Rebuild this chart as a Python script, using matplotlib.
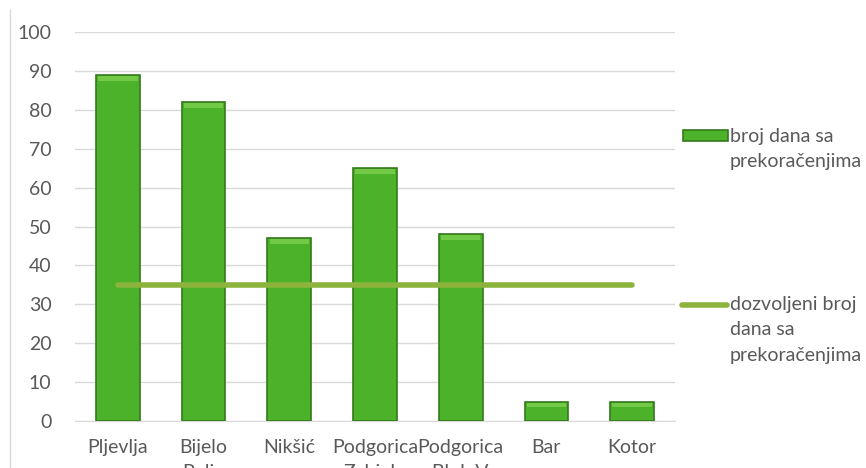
import matplotlib

matplotlib.use("Agg")
import matplotlib.pyplot as plt
from matplotlib.lines import Line2D
from matplotlib.patches import Rectangle

plt.rcParams["font.family"] = ["Lato", "DejaVu Sans"]

stations = ["Pljevlja", "Bijelo\nPolje", "Nikšić", "Podgorica\nZabjelo",
            "Podgorica\nBlok V", "Bar", "Kotor"]
days_over = [89, 82, 47, 65, 48, 5, 5]
allowed_days = 35
yticks = [0, 10, 20, 30, 40, 50, 60, 70, 80, 90, 100]

bar_label = "broj dana sa\nprekoračenjima"
line_label = "dozvoljeni broj\ndana sa\nprekoračenjima"

BAR_GREEN = "#4cb22a"
BAR_EDGE = "#347a1c"
LIMIT_GREEN = "#8cb43c"
TEXT_GREY = "#595959"
FS = 14

W, H = 866, 468
fig = plt.figure(figsize=(W / 100, H / 100), dpi=100)
ax = fig.add_axes([75 / W, 1 - 421 / H, 600 / W, 389 / H])

x = range(len(stations))
ax.bar(x, days_over, width=0.51, color=BAR_GREEN, edgecolor=BAR_EDGE,
       linewidth=1.2, zorder=3)
# light bevel along the top of each bar
ax.bar(x, [1.2 if v > 2 else 0 for v in days_over], width=0.46,
       bottom=[v - 1.5 for v in days_over], color="#72c946", linewidth=0, zorder=4)
ax.plot([x[0], x[-1]], [allowed_days, allowed_days], color=LIMIT_GREEN,
        linewidth=4, solid_capstyle="round", zorder=5)

ax.set_xlim(-0.5, len(stations) - 0.5)
ax.set_ylim(0, 100)
ax.set_yticks(yticks)
ax.set_xticks(list(x))
ax.set_xticklabels(stations, linespacing=1.6)
ax.grid(axis="y", color="#d9d9d9", linewidth=1, zorder=0)
for side in ["top", "right", "left"]:
    ax.spines[side].set_visible(False)
ax.spines["bottom"].set_color("#d9d9d9")
ax.tick_params(axis="both", length=0, labelsize=FS, labelcolor=TEXT_GREY)
ax.tick_params(axis="x", pad=13)
ax.tick_params(axis="y", pad=17)

# legend drawn by hand: key aligned with the first line of each label
fig.add_artist(Rectangle((683 / W, 1 - 141 / H), 45 / W, 11 / H,
                         facecolor=BAR_GREEN, edgecolor=BAR_EDGE, linewidth=1.2,
                         transform=fig.transFigure))
fig.text(730 / W, 1 - 128 / H, bar_label, fontsize=FS, color=TEXT_GREY,
         va="top", ha="left", linespacing=1.6)
fig.add_artist(Line2D([682 / W, 727 / W], [1 - 305 / H, 1 - 305 / H],
                      color=LIMIT_GREEN, linewidth=4, solid_capstyle="round",
                      transform=fig.transFigure))
fig.text(730 / W, 1 - 296 / H, line_label, fontsize=FS, color=TEXT_GREY,
         va="top", ha="left", linespacing=1.6)

fig.add_artist(Line2D([10 / W, 10 / W], [0, 1 - 10 / H], color="#d9d9d9",
                      linewidth=1, transform=fig.transFigure))

fig.savefig("out.png", dpi=100)
